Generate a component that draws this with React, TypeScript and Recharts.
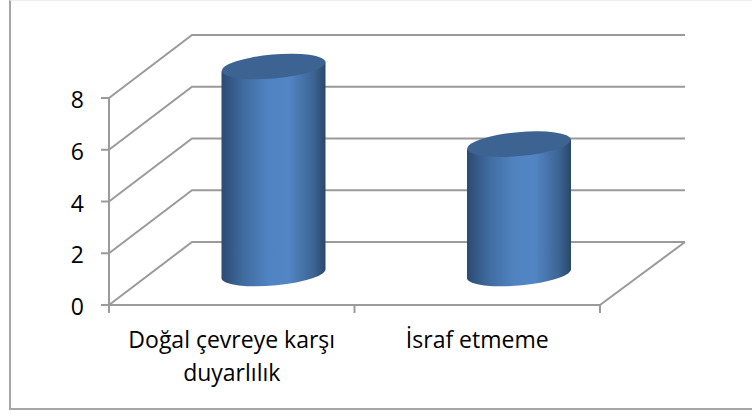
import { BarChart, Bar, XAxis, YAxis, CartesianGrid } from "recharts"

const categories = ["Doğal çevreye karşı|duyarlılık", "İsraf etmeme"]
const values = [8, 5]
const yTicks = [0, 2, 4, 6, 8]

const chartData = categories.map((name, i) => ({ name, value: values[i] }))

const W = 752
const H = 416
const LEFT = 109
const RIGHT = 600
const TOP = 98
const BOTTOM = 305
// 3d look: how far the back wall sits from the front plane
const DEPTH_X = 83
const DEPTH_Y = 63
const BACK_EXTRA = 2
const BAND = (RIGHT - LEFT) / categories.length
const AXIS = "#9a9a9a"
const LINE = 2
const FONT = "'Open Sans', sans-serif"

const gridLine = (props: any) => {
  const { x1, x2, y1 } = props
  const isFloor = Math.abs(y1 - BOTTOM) < 1
  const back = y1 - DEPTH_Y
  return (
    <g key={props.key ?? y1}>
      <polyline
        points={`${x1},${y1} ${x1 + DEPTH_X},${back} ${x2 + DEPTH_X + BACK_EXTRA},${back}`}
        fill="none"
        stroke={AXIS}
        strokeWidth={LINE}
      />
      {isFloor && (
        <line x1={x2} y1={y1} x2={x2 + DEPTH_X + BACK_EXTRA} y2={back} stroke={AXIS} strokeWidth={LINE} />
      )}
    </g>
  )
}

const CategoryTick = (props: any) => {
  const { x, payload, index } = props
  const lines = String(payload.value).split("|")
  const left = x - BAND / 2
  return (
    <g>
      <line x1={left} y1={BOTTOM} x2={left} y2={BOTTOM + 8} stroke={AXIS} strokeWidth={LINE} />
      {index === categories.length - 1 && (
        <line x1={left + BAND} y1={BOTTOM} x2={left + BAND} y2={BOTTOM + 8} stroke={AXIS} strokeWidth={LINE} />
      )}
      {lines.map((line, i) => (
        <text key={line} x={x} y={BOTTOM + 43 + i * 33} textAnchor="middle" fontSize={23} fontFamily={FONT} fill="#000">
          {line}
        </text>
      ))}
    </g>
  )
}

const Cylinder = (props: any) => {
  const { x, y, width, height } = props
  // bars stand half way between the front plane and the back wall
  const cx = x + width / 2 + DEPTH_X / 2
  const topY = y - DEPTH_Y / 2
  const botY = y + height - DEPTH_Y / 2
  const rx = width / 2
  const ry = 12
  const tilt = 5
  const dy = 5
  const l = cx - rx
  const r = cx + rx
  return (
    <g>
      <path
        d={`M${l},${topY + dy} L${l},${botY + dy} A${rx},${ry} ${-tilt} 0 0 ${r},${botY - dy} L${r},${topY - dy} Z`}
        fill="url(#cylinderSide)"
      />
      <ellipse cx={cx} cy={topY} rx={rx} ry={ry} transform={`rotate(${-tilt} ${cx} ${topY})`} fill="#3c6391" />
    </g>
  )
}

export default function App() {
  return (
    <div style={{ position: "absolute", left: 0, top: 0, width: W, height: H, background: "#fff" }}>
      <div
        style={{
          position: "absolute",
          left: 9,
          top: 0,
          width: 743,
          height: 407,
          borderTop: "1px solid #eeeeee",
          borderLeft: "2px solid #a6a6a6",
          borderBottom: "2px solid #a6a6a6",
        }}
      />
      <BarChart
        width={W}
        height={H}
        data={chartData}
        margin={{ top: TOP, left: LEFT - 60, right: W - RIGHT, bottom: 0 }}
        barSize={104}
        style={{ position: "absolute", left: 0, top: 0 }}
      >
        <defs>
          <linearGradient id="cylinderSide" x1="0" y1="0" x2="1" y2="0">
            <stop offset="0" stopColor="#2b4b72" />
            <stop offset="0.2" stopColor="#3f6a9e" />
            <stop offset="0.45" stopColor="#5083c1" />
            <stop offset="0.65" stopColor="#5285c4" />
            <stop offset="0.88" stopColor="#3d6595" />
            <stop offset="1" stopColor="#2a4768" />
          </linearGradient>
        </defs>
        <CartesianGrid horizontal={gridLine} vertical={false} />
        <XAxis
          dataKey="name"
          interval={0}
          height={H - BOTTOM}
          axisLine={{ stroke: AXIS, strokeWidth: LINE }}
          tickLine={false}
          tick={CategoryTick}
        />
        <YAxis
          width={60}
          domain={[0, 8]}
          ticks={yTicks}
          interval={0}
          axisLine={{ stroke: AXIS, strokeWidth: LINE }}
          tickLine={{ stroke: AXIS, strokeWidth: LINE }}
          tickSize={8}
          tick={{ fontSize: 23, fontFamily: FONT, fill: "#000", dx: -15, dy: 2 }}
        />
        <Bar dataKey="value" shape={Cylinder} isAnimationActive={false} />
      </BarChart>
    </div>
  )
}
